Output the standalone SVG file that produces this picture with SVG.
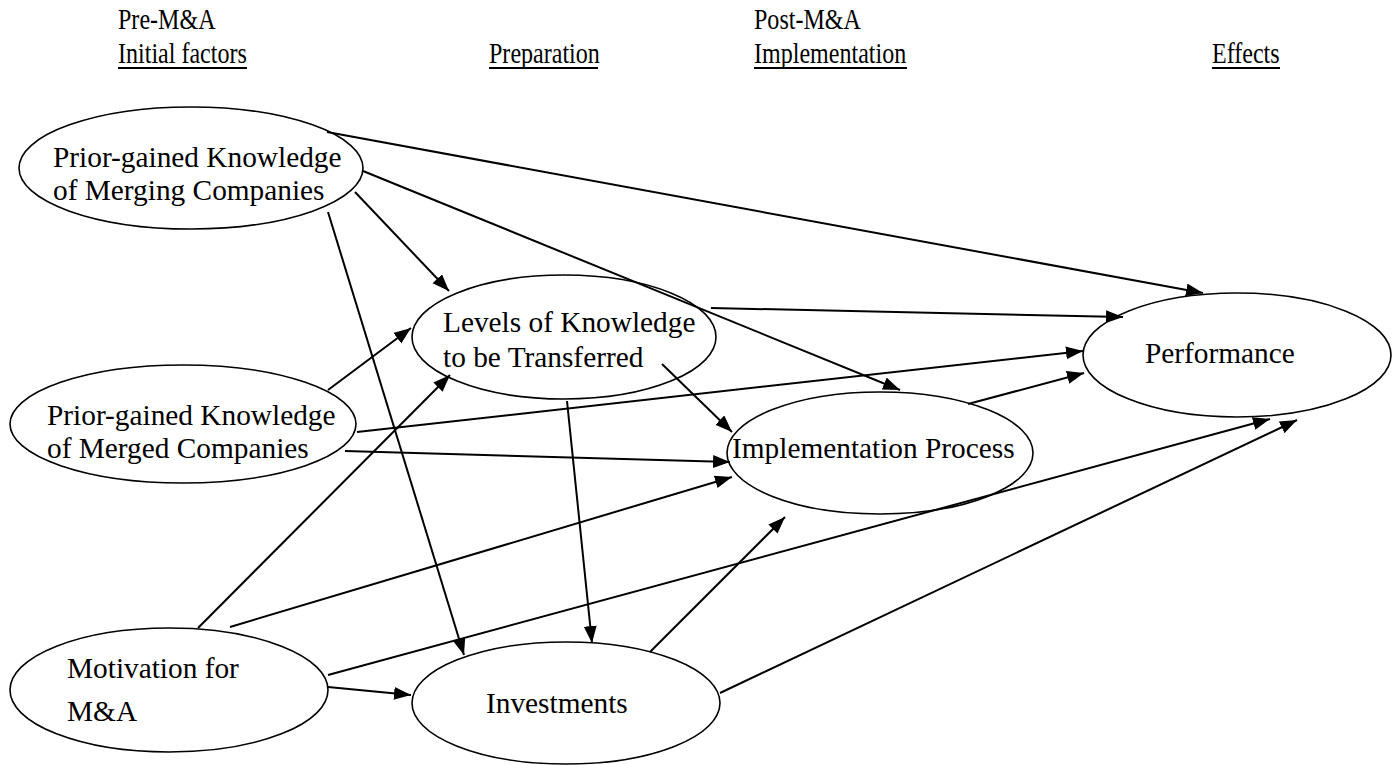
<svg xmlns="http://www.w3.org/2000/svg" width="1395" height="765" viewBox="0 0 1395 765">
<style>
  .hdr { font-family: "Liberation Serif", "Times New Roman", serif; font-size: 29.33px; fill: #000; }
  .lbl { font-family: "Liberation Serif", "Times New Roman", serif; font-size: 29.33px; fill: #000; }
  .node ellipse { fill: #fff; stroke: #000; stroke-width: 1.6; }
  .conn line { stroke: #000; stroke-width: 2; marker-end: url(#ah); }
  .ul { stroke: #000; stroke-width: 1.8; }
</style>
<defs>
  <marker id="ah" markerUnits="userSpaceOnUse" markerWidth="18" markerHeight="14" refX="17" refY="6.5" orient="auto">
    <path d="M0,0 L17,6.5 L0,13 z" fill="#000"/>
  </marker>
</defs>
<rect width="1395" height="765" fill="#fff"/>

<g id="headers">
  <text class="hdr" transform="translate(118,29) scale(0.82,1)">Pre-M&amp;A</text>
  <text class="hdr" transform="translate(118,63) scale(0.82,1)">Initial factors</text>
  <line class="ul" x1="118" y1="68" x2="247" y2="68"/>
  <text class="hdr" transform="translate(489,63) scale(0.82,1)">Preparation</text>
  <line class="ul" x1="489" y1="68" x2="598" y2="68"/>
  <text class="hdr" transform="translate(754,29) scale(0.82,1)">Post-M&amp;A</text>
  <text class="hdr" transform="translate(754,63) scale(0.82,1)">Implementation</text>
  <line class="ul" x1="754" y1="68" x2="907" y2="68"/>
  <text class="hdr" transform="translate(1212,63) scale(0.82,1)">Effects</text>
  <line class="ul" x1="1212" y1="68" x2="1280" y2="68"/>
</g>

<g id="node-merging" class="node">
  <ellipse cx="191" cy="168" rx="172" ry="61"/>
  <text class="lbl" x="53" y="167">Prior-gained Knowledge</text>
  <text class="lbl" x="53" y="200">of Merging Companies</text>
</g>
<g id="node-levels" class="node">
  <ellipse cx="564" cy="337" rx="152" ry="62"/>
  <text class="lbl" x="443" y="332">Levels of Knowledge</text>
  <text class="lbl" x="443" y="367">to be Transferred</text>
</g>
<g id="node-merged" class="node">
  <ellipse cx="183" cy="424" rx="173" ry="59"/>
  <text class="lbl" x="47" y="425">Prior-gained Knowledge</text>
  <text class="lbl" x="47" y="458">of Merged Companies</text>
</g>
<g id="node-implementation" class="node">
  <ellipse cx="880" cy="453" rx="153" ry="61"/>
  <text class="lbl" x="732" y="458">Implementation Process</text>
</g>
<g id="node-performance" class="node">
  <ellipse cx="1237" cy="355" rx="154" ry="62"/>
  <text class="lbl" x="1145" y="363">Performance</text>
</g>
<g id="node-motivation" class="node">
  <ellipse cx="169" cy="690" rx="159" ry="62"/>
  <text class="lbl" x="67" y="678">Motivation for</text>
  <text class="lbl" x="67" y="721">M&amp;A</text>
</g>
<g id="node-investments" class="node">
  <ellipse cx="566" cy="703" rx="154" ry="61"/>
  <text class="lbl" x="486" y="713">Investments</text>
</g>

<g id="connectors" class="conn">
  <line x1="327" y1="132" x2="1203" y2="293"/>
  <line x1="363" y1="171" x2="900" y2="390"/>
  <line x1="355" y1="192" x2="449" y2="291"/>
  <line x1="328" y1="212" x2="464" y2="655"/>
  <line x1="711" y1="308" x2="1123" y2="317"/>
  <line x1="662" y1="364" x2="732" y2="432"/>
  <line x1="567" y1="401" x2="592" y2="643"/>
  <line x1="328" y1="390" x2="411" y2="328"/>
  <line x1="357" y1="432" x2="1083" y2="351"/>
  <line x1="345" y1="451" x2="730" y2="462"/>
  <line x1="198" y1="628" x2="450" y2="375"/>
  <line x1="230" y1="627" x2="732" y2="477"/>
  <line x1="328" y1="675" x2="1270" y2="419"/>
  <line x1="328" y1="687" x2="411" y2="695"/>
  <line x1="720" y1="693" x2="1297" y2="420"/>
  <line x1="650" y1="652" x2="785" y2="517"/>
  <line x1="968" y1="404" x2="1084" y2="373"/>
</g>
</svg>
